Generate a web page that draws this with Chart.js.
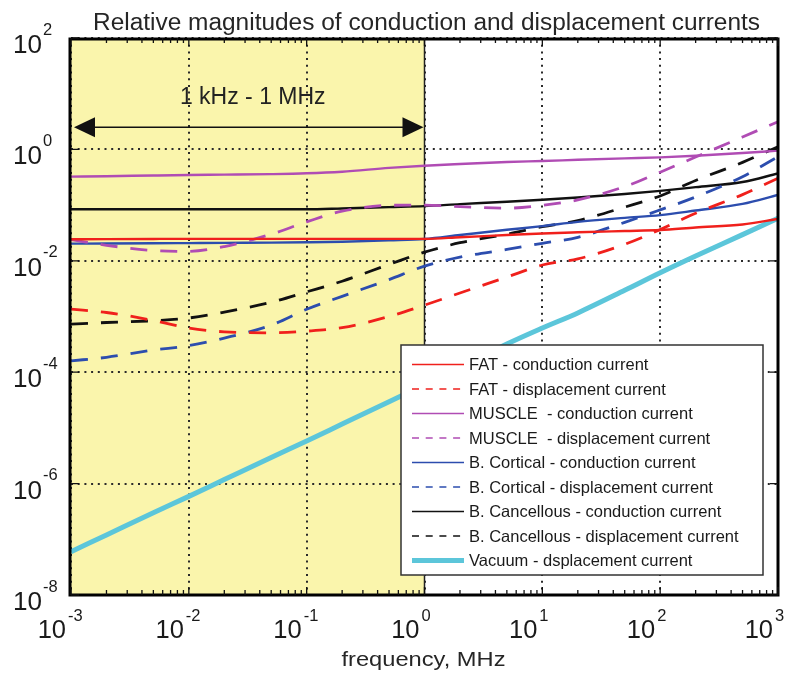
<!DOCTYPE html>
<html>
<head>
<meta charset="utf-8">
<script src="https://cdn.jsdelivr.net/npm/chart.js@4.4.1/dist/chart.umd.min.js"></script>
<style>html,body{margin:0;padding:0;background:#fff;}canvas{display:block;}</style>
</head>
<body>
<canvas id="c" width="800" height="683"></canvas>
<script>
// ---------------- data (frequency in MHz, relative magnitude) ----------------
const freqMHz = [0.001, 0.002, 0.005, 0.01, 0.02, 0.05, 0.1, 0.2, 0.5, 1, 2, 5, 10, 20, 50, 100, 200, 500, 1000];

const fatConduction      = [0.0243, 0.0245, 0.0247, 0.0248, 0.0248, 0.0248, 0.0248, 0.0248, 0.0248, 0.0248, 0.0265, 0.029, 0.031, 0.0325, 0.0343, 0.0357, 0.0397, 0.0449, 0.0563];
const fatDisplacement    = [1.36e-3, 1.18e-3, 8.5e-4, 6.2e-4, 5.3e-4, 5.1e-4, 5.45e-4, 6.3e-4, 1.0e-3, 1.6e-3, 2.64e-3, 5.1e-3, 8.4e-3, 0.0108, 0.0198, 0.0363, 0.0716, 0.154, 0.303];
const muscleConduction   = [0.324, 0.33, 0.34, 0.347, 0.352, 0.36, 0.372, 0.398, 0.465, 0.51, 0.547, 0.594, 0.62, 0.65, 0.69, 0.72, 0.77, 0.86, 0.95];
const muscleDisplacement = [0.024, 0.019, 0.0153, 0.0148, 0.018, 0.030, 0.050, 0.078, 0.099, 0.1, 0.094, 0.088, 0.099, 0.124, 0.215, 0.39, 0.73, 1.67, 3.14];
const cortConduction     = [0.0203, 0.0204, 0.0206, 0.0208, 0.021, 0.0212, 0.0215, 0.022, 0.0233, 0.0246, 0.029, 0.036, 0.042, 0.050, 0.059, 0.066, 0.080, 0.105, 0.152];
const cortDisplacement   = [1.6e-4, 1.85e-4, 2.5e-4, 3.0e-4, 4.1e-4, 7.0e-4, 1.35e-3, 2.3e-3, 4.6e-3, 8.0e-3, 0.0116, 0.016, 0.0206, 0.0264, 0.049, 0.082, 0.14, 0.324, 0.74];
const cancConduction     = [0.084, 0.084, 0.084, 0.084, 0.084, 0.084, 0.084, 0.087, 0.092, 0.096, 0.104, 0.115, 0.125, 0.137, 0.158, 0.18, 0.21, 0.26, 0.37];
const cancDisplacement   = [7.3e-4, 7.8e-4, 8.4e-4, 9.4e-4, 1.2e-3, 1.8e-3, 2.77e-3, 4.3e-3, 8.6e-3, 0.0143, 0.0211, 0.030, 0.041, 0.0527, 0.092, 0.146, 0.277, 0.585, 1.12];
const vacuumDisplacement = [6.0e-8, 1.2e-7, 3.0e-7, 5.9e-7, 1.18e-6, 2.95e-6, 5.8e-6, 1.17e-5, 2.95e-5, 5.9e-5, 1.2e-4, 3.2e-4, 6.2e-4, 1.16e-3, 2.95e-3, 6.1e-3, 1.22e-2, 2.95e-2, 5.8e-2];

const seriesLabels = [
  'FAT - conduction current',
  'FAT - displacement current',
  'MUSCLE  - conduction current',
  'MUSCLE  - displacement current',
  'B. Cortical - conduction current',
  'B. Cortical - displacement current',
  'B. Cancellous - conduction current',
  'B. Cancellous - displacement current',
  'Vacuum - dsplacement current'
];

const xTickValues = [1e-3, 1e-2, 1e-1, 1, 1e1, 1e2, 1e3];
const xTickExponents = ['-3', '-2', '-1', '0', '1', '2', '3'];
const yTickValues = [1e-8, 1e-6, 1e-4, 1e-2, 1, 1e2];
const yTickExponents = ['-8', '-6', '-4', '-2', '0', '2'];

const bandRange = [0.001, 1];          // shaded 1 kHz - 1 MHz band (MHz)
const bandLabel = '1 kHz - 1 MHz';
const arrowLevel = 2.5;                // y value of the double arrow
const chartTitle = 'Relative magnitudes of conduction and displacement currents';
const xAxisTitle = 'frequency, MHz';

// ---------------- styling ----------------
const FONT = '"Liberation Sans", Arial, Helvetica, sans-serif';
const RED = '#F0201C', PURPLE = '#B04CB4', BLUE = '#2C4DAE', BLACK = '#111111', CYAN = '#5CC6DA';
const DASH = [17, 13];

function mk(label, arr, color, dashed, width) {
  return {
    label,
    data: freqMHz.map((f, i) => ({x: f, y: arr[i]})),
    borderColor: color,
    backgroundColor: color,
    borderWidth: width,
    borderDash: dashed ? DASH : [],
    pointRadius: 0,
    fill: false,
    cubicInterpolationMode: 'monotone',
    _dashed: dashed
  };
}

const datasets = [
  mk(seriesLabels[0], fatConduction, RED, false, 2.4),
  mk(seriesLabels[1], fatDisplacement, RED, true, 2.8),
  mk(seriesLabels[2], muscleConduction, PURPLE, false, 2.4),
  mk(seriesLabels[3], muscleDisplacement, PURPLE, true, 2.8),
  mk(seriesLabels[4], cortConduction, BLUE, false, 2.4),
  mk(seriesLabels[5], cortDisplacement, BLUE, true, 2.8),
  mk(seriesLabels[6], cancConduction, BLACK, false, 2.4),
  mk(seriesLabels[7], cancDisplacement, BLACK, true, 2.8),
  mk(seriesLabels[8], vacuumDisplacement, CYAN, false, 5)
];

function drawText(ctx, text, x, y, size, align, targetWidth, color) {
  ctx.save();
  ctx.font = size + 'px ' + FONT;
  ctx.fillStyle = color || '#222';
  ctx.textBaseline = 'alphabetic';
  ctx.textAlign = align;
  const w = ctx.measureText(text).width;
  const sx = targetWidth ? targetWidth / w : 1;
  ctx.translate(x, y);
  ctx.scale(sx, 1);
  ctx.fillText(text, 0, 0);
  ctx.restore();
}

const decor = {
  id: 'decor',
  beforeDraw(chart) {
    const {ctx, chartArea: a, scales: {x}} = chart;
    ctx.save();
    ctx.fillStyle = '#ffffff';
    ctx.fillRect(0, 0, chart.width, chart.height);
    const x0 = x.getPixelForValue(bandRange[0]);
    const x1 = x.getPixelForValue(bandRange[1]);
    ctx.fillStyle = '#FAF5AC';
    ctx.fillRect(x0, a.top, x1 - x0, a.bottom - a.top);
    ctx.restore();
  },
  beforeDatasetsDraw(chart) {
    const {ctx, chartArea: a, scales: {x}} = chart;
    const x1 = x.getPixelForValue(bandRange[1]);
    ctx.save();
    ctx.strokeStyle = '#222';
    ctx.lineWidth = 1.5;
    ctx.beginPath();
    ctx.moveTo(x1, a.top);
    ctx.lineTo(x1, a.bottom);
    ctx.stroke();
    ctx.restore();
  },
  afterDatasetsDraw(chart) {
    const {ctx, chartArea: a, scales: {x, y}} = chart;
    ctx.save();

    // double arrow
    const xa = x.getPixelForValue(bandRange[0]) + 3;
    const xb = x.getPixelForValue(bandRange[1]) - 1;
    const ya = y.getPixelForValue(arrowLevel);
    ctx.strokeStyle = '#111';
    ctx.fillStyle = '#111';
    ctx.lineWidth = 1.5;
    ctx.beginPath();
    ctx.moveTo(xa + 15, ya); ctx.lineTo(xb - 15, ya); ctx.stroke();
    ctx.beginPath();
    ctx.moveTo(xa, ya); ctx.lineTo(xa + 21, ya - 10); ctx.lineTo(xa + 21, ya + 10); ctx.closePath(); ctx.fill();
    ctx.beginPath();
    ctx.moveTo(xb, ya); ctx.lineTo(xb - 21, ya - 10); ctx.lineTo(xb - 21, ya + 10); ctx.closePath(); ctx.fill();
    drawText(ctx, bandLabel, (xa + xb) / 2 + 4, ya - 23, 23, 'center', 0, '#222');

    // frame
    ctx.strokeStyle = '#000';
    ctx.lineWidth = 3;
    ctx.strokeRect(a.left - 1, a.top + 1, a.right - a.left + 1, a.bottom - a.top - 1);

    // inward ticks
    ctx.lineWidth = 1.3;
    ctx.strokeStyle = '#111';
    ctx.beginPath();
    for (let d = -3; d < 3; d++) {
      for (let m = 2; m <= 9; m++) {
        const px = x.getPixelForValue(m * Math.pow(10, d));
        ctx.moveTo(px, a.bottom); ctx.lineTo(px, a.bottom - 5);
        ctx.moveTo(px, a.top); ctx.lineTo(px, a.top + 5);
      }
    }
    xTickValues.forEach(v => {
      const px = x.getPixelForValue(v);
      ctx.moveTo(px, a.bottom); ctx.lineTo(px, a.bottom - 8);
      ctx.moveTo(px, a.top); ctx.lineTo(px, a.top + 8);
    });
    yTickValues.forEach(v => {
      const py = y.getPixelForValue(v);
      ctx.moveTo(a.left, py); ctx.lineTo(a.left + 8, py);
      ctx.moveTo(a.right, py); ctx.lineTo(a.right - 8, py);
    });
    ctx.stroke();

    // tick labels (10 with superscript exponent)
    xTickValues.forEach((v, i) => {
      const px = x.getPixelForValue(v);
      drawText(ctx, '10', px - 5, a.bottom + 43, 25.5, 'right', 0, '#1a1a1a');
      drawText(ctx, xTickExponents[i], px - 3, a.bottom + 26, 16.5, 'left', 0, '#1a1a1a');
    });
    yTickValues.forEach((v, i) => {
      const py = y.getPixelForValue(v);
      drawText(ctx, '10', 42, py + 15, 25.5, 'right', 29, '#1a1a1a');
      drawText(ctx, yTickExponents[i], 43, py - 3.5, 16.5, 'left', 0, '#1a1a1a');
    });

    // titles
    drawText(ctx, chartTitle, (a.left + a.right) / 2 + 2, 29.5, 23.5, 'center', 667, '#262626');
    drawText(ctx, xAxisTitle, (a.left + a.right) / 2 - 1, 666, 20, 'center', 164, '#262626');

    // legend box
    const L = {left: 401, top: 345, w: 362, h: 230};
    ctx.fillStyle = '#fff';
    ctx.fillRect(L.left, L.top, L.w, L.h);
    ctx.strokeStyle = '#333';
    ctx.lineWidth = 1.5;
    ctx.strokeRect(L.left, L.top, L.w, L.h);
    chart.data.datasets.forEach((ds, i) => {
      const cy = L.top + 19.5 + i * 24.5;
      ctx.save();
      ctx.strokeStyle = ds.borderColor;
      ctx.lineWidth = ds.borderWidth >= 4 ? 5 : 1.7;
      ctx.setLineDash(ds._dashed ? [7, 6.7] : []);
      ctx.beginPath();
      ctx.moveTo(L.left + 11, cy);
      ctx.lineTo(L.left + 63, cy);
      ctx.stroke();
      ctx.restore();
      drawText(ctx, ds.label, L.left + 68, cy + 5.8, 16.5, 'left', 0, '#1a1a1a');
    });

    ctx.restore();
  }
};

new Chart(document.getElementById('c'), {
  type: 'line',
  data: {datasets},
  options: {
    responsive: false,
    animation: false,
    devicePixelRatio: 1,
    layout: {padding: {top: 38, right: 22, left: 0, bottom: 0}},
    plugins: {legend: {display: false}, title: {display: false}, tooltip: {enabled: false}},
    scales: {
      x: {
        type: 'logarithmic', min: 1e-3, max: 1e3,
        afterBuildTicks: s => { s.ticks = xTickValues.map(v => ({value: v})); },
        afterFit: s => { s.height = 88; },
        ticks: {display: false},
        grid: {color: '#2a2a2a', lineWidth: 2, drawTicks: false},
        border: {display: false, dash: [2, 4.7]}
      },
      y: {
        type: 'logarithmic', min: 1e-8, max: 1e2,
        afterBuildTicks: s => { s.ticks = yTickValues.map(v => ({value: v})); },
        afterFit: s => { s.width = 71; },
        ticks: {display: false},
        grid: {color: '#2a2a2a', lineWidth: 2, drawTicks: false},
        border: {display: false, dash: [2, 4.7]}
      }
    }
  },
  plugins: [decor]
});
</script>
</body>
</html>
